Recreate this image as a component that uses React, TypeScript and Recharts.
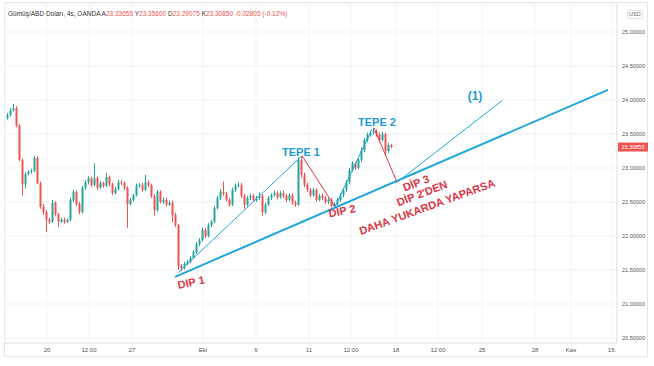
import { Bar, CartesianGrid, ComposedChart, ReferenceDot, ReferenceLine, XAxis, YAxis } from 'recharts';

// 4s mumlar (Gümüş/ABD Doları), soldan sağa
const opens = [
    23.74, 23.78, 23.85, 23.88, 23.62, 23.12, 22.76, 22.91, 22.94, 22.96,
    23.15, 22.78, 22.43, 22.35, 22.24, 22.21, 22.49, 22.32, 22.21, 22.24,
    22.21, 22.24, 22.53, 22.65, 22.47, 22.35, 22.71, 22.79, 22.85, 22.75,
    22.85, 22.71, 22.78, 22.74, 22.87, 22.76, 22.63, 22.69, 22.79, 22.78,
    22.71, 22.47, 22.53, 22.60, 22.74, 22.75, 22.68, 22.79, 22.75, 22.59,
    22.38, 22.65, 22.50, 22.53, 22.46, 22.49, 22.31, 22.16, 21.56, 21.53,
    21.59, 21.62, 21.68, 21.76, 21.88, 21.94, 22.09, 22.00, 22.16, 22.21,
    22.41, 22.56, 22.65, 22.62, 22.53, 22.46, 22.68, 22.74, 22.75, 22.59,
    22.46, 22.56, 22.59, 22.53, 22.56, 22.59, 22.35, 22.46, 22.56, 22.60,
    22.63, 22.57, 22.63, 22.59, 22.53, 22.60, 22.49, 22.46, 23.12, 22.90,
    22.75, 22.68, 22.60, 22.68, 22.53, 22.59, 22.56, 22.50, 22.53, 22.44,
    22.47, 22.53, 22.60, 22.68, 22.79, 22.97, 23.07, 23.00, 23.12, 23.26,
    23.41, 23.49, 23.51, 23.54, 23.49, 23.41, 23.50, 23.25, 23.337,
];
const highs = [
    23.81, 23.88, 23.94, 23.91, 23.65, 23.14, 22.94, 22.97, 22.99, 23.18,
    23.17, 22.80, 22.47, 22.38, 22.27, 22.53, 22.51, 22.34, 22.27, 22.27,
    22.26, 22.56, 22.68, 22.67, 22.50, 22.74, 22.82, 22.88, 22.87, 23.07,
    22.88, 22.81, 22.80, 22.93, 22.89, 22.78, 22.72, 22.83, 22.82, 22.80,
    22.73, 22.56, 22.62, 22.77, 22.78, 22.78, 22.90, 22.82, 22.77, 22.62,
    22.68, 22.67, 22.57, 22.56, 22.52, 22.52, 22.34, 22.18, 21.59, 21.62,
    21.65, 21.71, 21.79, 21.91, 21.97, 22.12, 22.12, 22.19, 22.24, 22.44,
    22.59, 22.69, 22.80, 22.65, 22.56, 22.71, 22.77, 22.79, 22.78, 22.62,
    22.59, 22.62, 22.62, 22.59, 22.64, 22.62, 22.49, 22.59, 22.63, 22.67,
    22.66, 22.66, 22.67, 22.62, 22.63, 22.63, 22.52, 23.16, 23.18, 22.93,
    22.78, 22.71, 22.71, 22.70, 22.62, 22.62, 22.59, 22.56, 22.56, 22.50,
    22.56, 22.63, 22.71, 22.82, 23.00, 23.10, 23.09, 23.15, 23.30, 23.44,
    23.52, 23.55, 23.59, 23.57, 23.52, 23.53, 23.52, 23.37, 23.356,
];
const lows = [
    23.71, 23.76, 23.83, 23.60, 23.10, 22.59, 22.70, 22.89, 22.92, 22.94,
    22.76, 22.40, 22.31, 22.06, 22.18, 22.19, 22.29, 22.13, 22.19, 22.18,
    22.19, 22.22, 22.50, 22.44, 22.32, 22.33, 22.68, 22.76, 22.72, 22.73,
    22.68, 22.69, 22.71, 22.72, 22.73, 22.60, 22.61, 22.67, 22.75, 22.68,
    22.12, 22.45, 22.51, 22.58, 22.71, 22.65, 22.66, 22.72, 22.56, 22.30,
    22.36, 22.48, 22.47, 22.43, 22.44, 22.20, 22.13, 21.50, 21.48, 21.51,
    21.57, 21.60, 21.66, 21.74, 21.85, 21.92, 21.97, 21.98, 22.13, 22.19,
    22.39, 22.53, 22.59, 22.51, 22.43, 22.44, 22.65, 22.71, 22.56, 22.40,
    22.43, 22.53, 22.50, 22.50, 22.53, 22.30, 22.32, 22.44, 22.53, 22.58,
    22.54, 22.55, 22.56, 22.50, 22.51, 22.46, 22.43, 22.44, 22.86, 22.72,
    22.65, 22.57, 22.58, 22.50, 22.51, 22.53, 22.47, 22.47, 22.42, 22.42,
    22.45, 22.50, 22.57, 22.65, 22.76, 22.94, 22.97, 22.98, 23.09, 23.23,
    23.38, 23.46, 23.49, 23.46, 23.38, 23.39, 23.20, 23.22, 23.291,
];
const closes = [
    23.78, 23.85, 23.88, 23.62, 23.12, 22.76, 22.91, 22.94, 22.96, 23.15,
    22.78, 22.43, 22.35, 22.24, 22.21, 22.49, 22.32, 22.21, 22.24, 22.21,
    22.24, 22.53, 22.65, 22.47, 22.35, 22.71, 22.79, 22.85, 22.75, 22.85,
    22.71, 22.78, 22.74, 22.87, 22.76, 22.63, 22.69, 22.79, 22.78, 22.71,
    22.47, 22.53, 22.60, 22.74, 22.75, 22.68, 22.79, 22.75, 22.59, 22.38,
    22.65, 22.50, 22.53, 22.46, 22.49, 22.31, 22.16, 21.56, 21.53, 21.59,
    21.62, 21.68, 21.76, 21.88, 21.94, 22.09, 22.00, 22.16, 22.21, 22.41,
    22.56, 22.65, 22.62, 22.53, 22.46, 22.68, 22.74, 22.75, 22.59, 22.46,
    22.56, 22.59, 22.53, 22.56, 22.59, 22.35, 22.46, 22.56, 22.60, 22.63,
    22.57, 22.63, 22.59, 22.53, 22.60, 22.49, 22.46, 23.12, 22.90, 22.75,
    22.68, 22.60, 22.68, 22.53, 22.59, 22.56, 22.50, 22.53, 22.44, 22.47,
    22.53, 22.60, 22.68, 22.79, 22.97, 23.07, 23.00, 23.12, 23.26, 23.41,
    23.49, 23.51, 23.54, 23.49, 23.41, 23.50, 23.25, 23.34, 23.3085,
];

const priceTicks = [20.5, 21, 21.5, 22, 22.5, 23, 23.5, 24, 24.5, 25];
const timeTickPos = [13, 27, 41.33, 65, 82.67, 100.33, 114.33, 129.33, 143.33, 158, 175.67, 187.67, 201.33];
const timeTickLabels = ['20', '12:00', '27', 'Eki', '6', '11', '12:00', '18', '12:00', '25', '28', 'Kas', '15:'];

const lastPrice = 23.3085;

// çizilen trend çizgileri: [x1, y1, x2, y2] (mum sırası, fiyat)
const mainTrend = [55.67, 21.4, 200, 24.15];
const blueLegs = [
    [56.67, 21.46, 98, 23.18],
    [109, 22.43, 121.3, 23.57],
    [129.67, 22.79, 164.67, 23.99],
];
const redLegs = [
    [98, 23.18, 109, 22.43],
    [122, 23.59, 129.67, 22.79],
];

const noteTexts = ['TEPE 1', 'TEPE 2', '(1)', 'DIP 1', 'DIP 2', 'DİP 3', "DİP 2'DEN", 'DAHA YUKARDA YAPARSA'];
const noteX = [97.67, 123, 155.67, 61, 111.33, 136, 138, 139.67];
const noteY = [23.235, 23.68, 24.06, 21.32, 22.37, 22.78, 22.63, 22.43];

const BLUE = '#22a7dc';
const BLUE_TEXT = '#1f9ad3';
const RED = '#dc3545';
const UP = '#26a69a';
const DOWN = '#ef5350';
const FONT = '"Liberation Sans", Arial, sans-serif';

const noteStyle = [
    { color: BLUE_TEXT, angle: 0, size: 11 },
    { color: BLUE_TEXT, angle: 0, size: 11 },
    { color: BLUE_TEXT, angle: 0, size: 12 },
    { color: RED, angle: -12, size: 11 },
    { color: RED, angle: -12, size: 11 },
    { color: RED, angle: -21, size: 11 },
    { color: RED, angle: -21, size: 11 },
    { color: RED, angle: -20, size: 11 },
];

const candles = closes.map((close, i) => ({ i, open: opens[i], high: highs[i], low: lows[i], close }));

function Candle(props: any) {
    const { x, y, width, height, payload } = props;
    if (!payload) return null;
    const { open, close, high, low } = payload;
    const cx = x + width / 2;
    const top = Math.min(y, y + height);
    const h = Math.max(1, Math.abs(height));
    const ppu = h / (high - low || 1);
    const bodyTop = top + (high - Math.max(open, close)) * ppu;
    const bodyH = Math.max(1, Math.abs(open - close) * ppu);
    const color = close >= open ? UP : DOWN;
    return (
        <g>
            <rect x={cx - 0.5} y={top} width={1} height={h} fill={color} />
            <rect x={cx - 1} y={bodyTop} width={2} height={bodyH} fill={color} />
        </g>
    );
}

function NoteShape(idx: number) {
    return (props: any) => {
        const { cx, cy } = props;
        const s = noteStyle[idx];
        return (
            <text
                x={cx}
                y={cy}
                fill={s.color}
                fontSize={s.size}
                fontWeight="bold"
                fontFamily={FONT}
                textAnchor="middle"
                dominantBaseline="central"
                transform={`rotate(${s.angle} ${cx} ${cy})`}
            >
                {noteTexts[idx]}
            </text>
        );
    };
}

function PriceTag(props: any) {
    const { cx, cy } = props;
    return (
        <g>
            <rect x={cx + 1} y={cy - 4.5} width={30} height={9} fill={DOWN} />
            <text x={cx + 16} y={cy} fill="#fff" fontSize={5.5} fontFamily={FONT} textAnchor="middle" dominantBaseline="central">
                {lastPrice.toFixed(5)}
            </text>
        </g>
    );
}

function seg(s: number[]) {
    return [
        { x: s[0], y: s[1] },
        { x: s[2], y: s[3] },
    ];
}

export default function App() {
    return (
        <div style={{ position: 'absolute', left: 0, top: 0, width: 654, height: 366, background: '#fff', fontFamily: FONT }}>
            <div style={{ position: 'absolute', left: 4, top: 2, width: 644, height: 355, border: '1px solid #e4e6eb', boxSizing: 'border-box' }} />
            <ComposedChart width={654} height={366} data={candles} margin={{ top: 4, right: 6, bottom: 9, left: 5 }}>
                <CartesianGrid stroke="#f2f3f6" />
                <XAxis
                    dataKey="i"
                    type="number"
                    domain={[-1, 203]}
                    allowDataOverflow
                    ticks={timeTickPos}
                    tickFormatter={(_v: number, idx: number) => timeTickLabels[idx]}
                    interval={0}
                    height={14}
                    tickLine={false}
                    tickSize={0}
                    tickMargin={5}
                    axisLine={{ stroke: '#e0e3eb' }}
                    tick={{ fontSize: 6, fill: '#555', fontFamily: FONT }}
                />
                <YAxis
                    orientation="right"
                    type="number"
                    domain={[20.4265, 25.4118]}
                    allowDataOverflow
                    ticks={priceTicks}
                    tickFormatter={(v: number) => v.toFixed(5)}
                    interval={0}
                    width={31}
                    tickLine={false}
                    tickSize={0}
                    tickMargin={5}
                    axisLine={{ stroke: '#e0e3eb' }}
                    tick={{ fontSize: 5.5, fill: '#555', fontFamily: FONT, textAnchor: 'start' }}
                />
                <Bar dataKey={(d: any) => [d.low, d.high]} barSize={2} shape={Candle} isAnimationActive={false} />
                <ReferenceLine segment={seg(mainTrend)} stroke={BLUE} strokeWidth={2} ifOverflow="visible" />
                {blueLegs.map((s, k) => (
                    <ReferenceLine key={`b${k}`} segment={seg(s)} stroke={BLUE} strokeWidth={1} ifOverflow="visible" />
                ))}
                {redLegs.map((s, k) => (
                    <ReferenceLine key={`r${k}`} segment={seg(s)} stroke={RED} strokeWidth={1} ifOverflow="visible" />
                ))}
                {noteTexts.map((t, k) => (
                    <ReferenceDot key={t} x={noteX[k]} y={noteY[k]} r={0} ifOverflow="visible" shape={NoteShape(k)} />
                ))}
                <ReferenceDot x={203} y={lastPrice} r={0} ifOverflow="visible" shape={PriceTag} />
            </ComposedChart>
            <div style={{ position: 'absolute', left: 8, top: 10, fontSize: 6.5, color: '#333', whiteSpace: 'nowrap', lineHeight: '8px' }}>
                Gümüş/ABD Doları, 4s, OANDA{'  '}
                <span>A</span><span style={{ color: DOWN }}>23.33655 </span>
                <span>Y</span><span style={{ color: DOWN }}>23.35600 </span>
                <span>D</span><span style={{ color: DOWN }}>23.29075 </span>
                <span>K</span><span style={{ color: DOWN }}>23.30850 -0.02805 (-0.12%)</span>
            </div>
            <div style={{ position: 'absolute', left: 627, top: 10, fontSize: 5.5, color: '#666', border: '1px solid #e0e3eb', borderRadius: 2, padding: '0 1px', lineHeight: '7px' }}>
                USD
            </div>
        </div>
    );
}
